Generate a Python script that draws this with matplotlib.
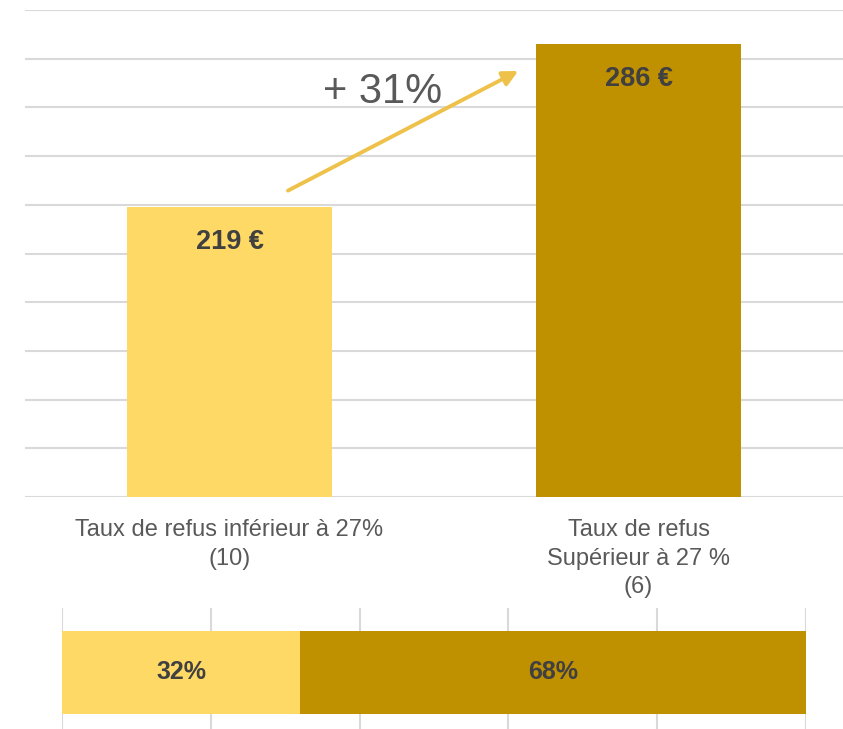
import matplotlib.pyplot as plt

plt.rcParams["font.family"] = ["Liberation Sans", "DejaVu Sans"]

categories = ["Taux de refus inférieur à 27%\n(10)", "Taux de refus\nSupérieur à 27 %\n(6)"]
montants = [219, 286]
labels_montants = ["219 €", "286 €"]
parts = [32, 68]
labels_parts = ["32%", "68%"]
hausse = "+ 31%"

clair = "#FFD966"
fonce = "#BF9000"
grille = "#D9D9D9"
gris = "#595959"

fig = plt.figure(figsize=(8.43, 7.29), dpi=100)

# graphique principal
ax = fig.add_axes([25 / 843, 1 - 497 / 729, 818 / 843, 487 / 729])
x = range(len(categories))
ax.bar(x, montants, width=0.5, color=[clair, fonce], zorder=2)
ax.set_ylim(100, 300)
ax.set_xlim(-0.5, 1.5)
ax.set_yticks(range(100, 301, 20))
ax.yaxis.grid(True, color=grille, linewidth=1.5, zorder=0)
ax.set_axisbelow(True)
for s in ax.spines.values():
    s.set_visible(False)
ax.tick_params(axis="y", left=False, labelleft=False)
ax.set_xticks(list(x))
ax.set_xticklabels(categories, fontsize=17, color=gris, linespacing=1.38)
ax.tick_params(axis="x", length=0, pad=16)

for i, v in enumerate(montants):
    ax.annotate(labels_montants[i], (i, v), xytext=(0, -25), textcoords="offset points",
                ha="center", va="center", fontsize=19.5, fontweight="bold", color="#404040")

ax.annotate("", xy=(0.712, 275.5), xytext=(0.137, 225.3),
            arrowprops=dict(arrowstyle="-|>,head_length=0.9,head_width=0.45",
                            color="#EEC24A", lw=2.8))
ax.text(0.375, 266.5, hausse, fontsize=30, color=gris, ha="center", va="center")

# barre de répartition
ax2 = fig.add_axes([62 / 843, 0, 744 / 843, 121 / 729])
left = 0
cols = [clair, fonce]
for i, p in enumerate(parts):
    ax2.barh(0, p, left=left, height=1, color=cols[i], zorder=2)
    ax2.text(left + p / 2, 0, labels_parts[i], ha="center", va="center",
             fontsize=18, fontweight="bold", color="#404040",
             family=["Liberation Sans Narrow", "Liberation Sans"], zorder=3)
    left += p
ax2.set_xlim(0, 100)
ax2.set_ylim(-0.681, 0.777)
ax2.set_xticks(range(0, 101, 20))
ax2.xaxis.grid(True, color=grille, linewidth=1.5, zorder=0)
ax2.set_axisbelow(True)
for s in ax2.spines.values():
    s.set_visible(False)
ax2.tick_params(left=False, labelleft=False, bottom=False, labelbottom=False)

fig.savefig("out.png", dpi=100)
